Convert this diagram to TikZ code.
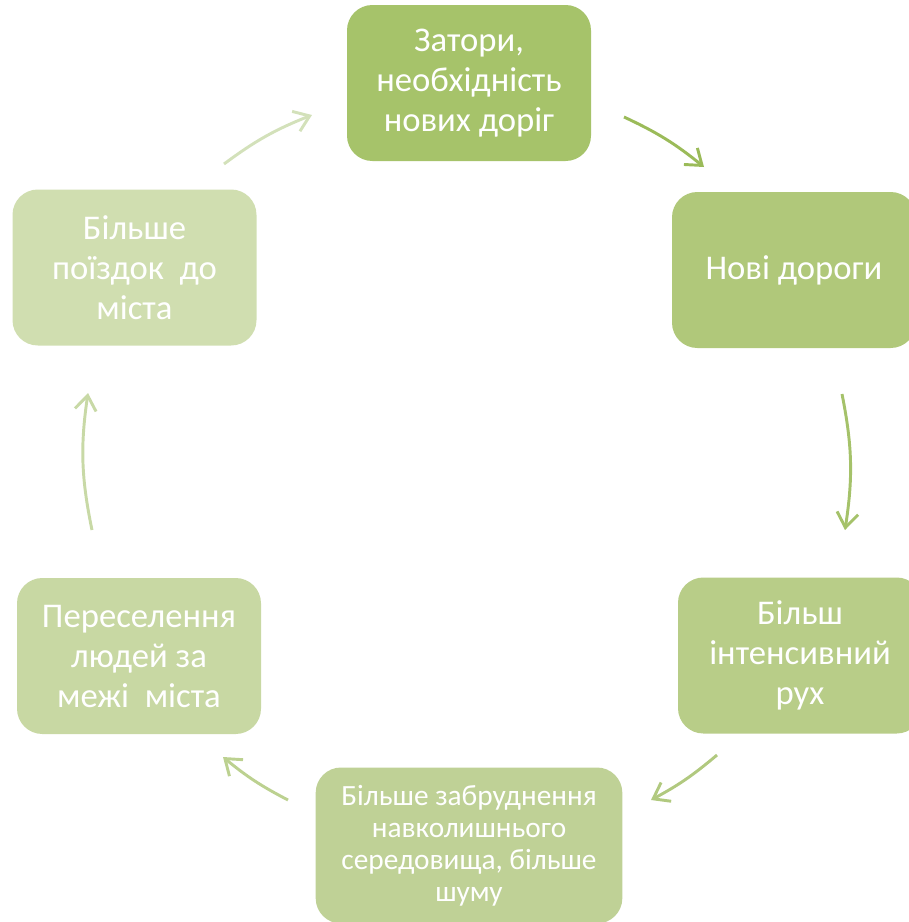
\documentclass[tikz,border=0pt]{standalone}
\usepackage{fontspec}
\setmainfont{Carlito}
\usetikzlibrary{arrows.meta}
\definecolor{cA}{HTML}{A6C36A}
\definecolor{cB}{HTML}{B0C87A}
\definecolor{cC}{HTML}{B8CD88}
\definecolor{cD}{HTML}{BFD196}
\definecolor{cE}{HTML}{C8D8A3}
\definecolor{cF}{HTML}{D0DEB0}
\definecolor{aA}{HTML}{9BBB59}
\definecolor{aB}{HTML}{A5C26A}
\definecolor{aC}{HTML}{B1C97F}
\definecolor{aD}{HTML}{BCD190}
\definecolor{aE}{HTML}{C8D9A6}
\definecolor{aF}{HTML}{D3E1BA}
\tikzset{
  cyclebox/.style={rounded corners=19pt, inner sep=0pt, align=center, text=white,
    minimum width=183pt, minimum height=117pt,
    font=\fontsize{26}{30}\selectfont},
  cyclearrow/.style={line width=2.2pt, -{Straight Barb[length=11pt,width=16pt,line width=2.2pt]}},
}
\begin{document}
\begin{tikzpicture}[x=0.75pt,y=-0.75pt]
\useasboundingbox (0,0) rectangle (908,922);
\node[cyclebox, fill=cA] (n1) at (469,83) {Затори,\\необхідність\\нових доріг};
\node[cyclebox, fill=cB] (n2) at (794,270) {Нові дороги};
\node[cyclebox, fill=cC] (n3) at (800,655.5) {Більш\\інтенсивний\\рух};
\node[cyclebox, fill=cD, minimum width=230pt, font=\fontsize{22}{24}\selectfont] (n4) at (469,845.5) {Більше забруднення\\навколишнього\\середовища, більше\\шуму};
\node[cyclebox, fill=cE] (n5) at (139,656) {Переселення\\людей за\\межі\ \ міста};
\node[cyclebox, fill=cF] (n6) at (134.5,267.5) {Більше\\поїздок\ \ до\\міста};
\coordinate (a1s) at (624,117); \coordinate (a1e) at (704,167);
\coordinate (a2s) at (842,394); \coordinate (a2e) at (845,530);
\coordinate (a3s) at (717,755); \coordinate (a3e) at (651,800);
\coordinate (a4s) at (288,800); \coordinate (a4e) at (223,757);
\coordinate (a5s) at (92,530);  \coordinate (a5e) at (88,393);
\coordinate (a6s) at (224,164); \coordinate (a6e) at (312,115);
\draw[cyclearrow, aA] (a1s) to[bend left=7] (a1e);
\draw[cyclearrow, aB] (a2s) to[bend left=10] (a2e);
\draw[cyclearrow, aC] (a3s) to[bend left=6] (a3e);
\draw[cyclearrow, aD] (a4s) to[bend left=6] (a4e);
\draw[cyclearrow, aE] (a5s) to[bend left=10] (a5e);
\draw[cyclearrow, aF] (a6s) to[bend left=7.5] (a6e);
\end{tikzpicture}
\end{document}
